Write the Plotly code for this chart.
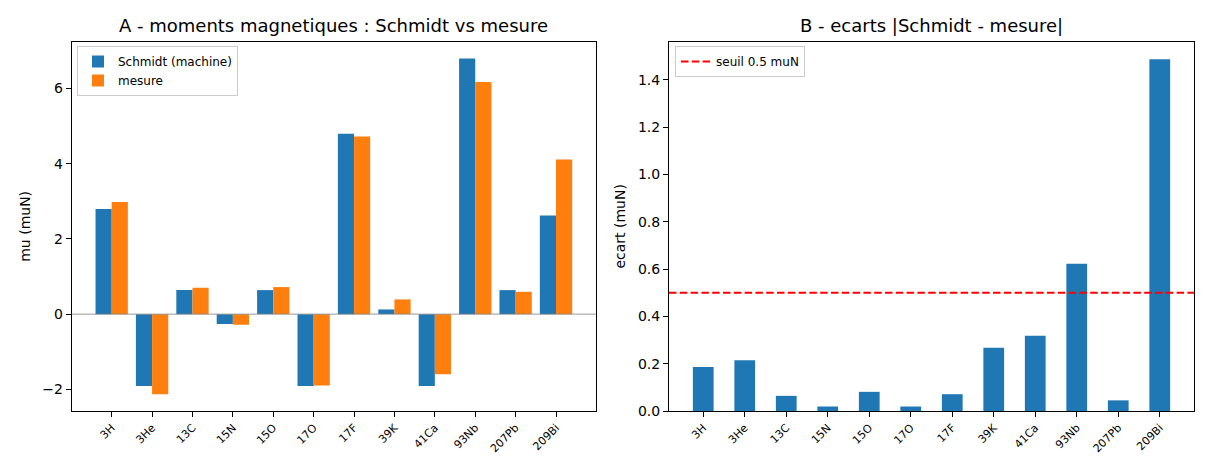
import plotly.graph_objects as go

# ---- data ----
nuclei = ["3H", "3He", "13C", "15N", "15O", "17O", "17F", "39K", "41Ca", "93Nb", "207Pb", "209Bi"]
schmidt = [2.793, -1.913, 0.638, -0.264, 0.638, -1.913, 4.793, 0.124, -1.913, 6.793, 0.638, 2.624]
mesure = [2.979, -2.128, 0.702, -0.283, 0.719, -1.894, 4.722, 0.391, -1.595, 6.170, 0.593, 4.111]
ecart = [0.186, 0.215, 0.064, 0.019, 0.081, 0.019, 0.071, 0.267, 0.318, 0.623, 0.045, 1.487]
seuil = 0.5

BLUE = "#1f77b4"
ORANGE = "#ff7f0e"
FONT = "DejaVu Sans"
W, H = 1210, 473

xs = list(range(len(nuclei)))

fig = go.Figure()
fig.add_trace(go.Bar(x=xs, y=schmidt, name="Schmidt (machine)", marker_color=BLUE,
                     marker_line_width=0, width=0.4, offset=-0.4, xaxis="x", yaxis="y",
                     legend="legend"))
fig.add_trace(go.Bar(x=xs, y=mesure, name="mesure", marker_color=ORANGE,
                     marker_line_width=0, width=0.4, offset=0.0, xaxis="x", yaxis="y",
                     legend="legend"))
fig.add_trace(go.Bar(x=xs, y=ecart, name="ecart", marker_color=BLUE, marker_line_width=0,
                     width=0.5, xaxis="x2", yaxis="y2", showlegend=False))

# zero line (left) and threshold (right)
fig.add_shape(type="line", xref="x domain", yref="y", x0=0, x1=1, y0=0, y1=0,
              line=dict(color="gray", width=0.8), layer="above")
fig.add_shape(type="line", xref="x2 domain", yref="y2", x0=0, x1=1, y0=seuil, y1=seuil,
              line=dict(color="#ff0000", width=2, dash="7.5px,3.3px"), layer="above",
              showlegend=True, name="seuil 0.5 muN", legend="legend2")

axis_common = dict(showline=True, linecolor="black", linewidth=1.1, mirror=True,
                   ticks="outside", ticklen=5, tickwidth=1.1, tickcolor="black",
                   showgrid=False, zeroline=False, automargin=False)

xl0, xl1 = 71.7 / W, 596 / W
xr0, xr1 = 669 / W, 1194 / W
yb, yt = 1 - 411 / H, 1 - 41.7 / H

fig.update_layout(
    width=W, height=H, autosize=False, margin=dict(l=0, r=0, t=0, b=0),
    paper_bgcolor="white", plot_bgcolor="white",
    font=dict(family=FONT, size=14, color="black"),
    barmode="overlay",
    xaxis=dict(domain=[xl0, xl1], range=[-0.99, 11.99], tickvals=xs, ticktext=nuclei,
               tickangle=-45, tickfont=dict(size=11), anchor="y", **axis_common),
    yaxis=dict(domain=[yb, yt], range=[-2.574, 7.239], dtick=2, tick0=0,
               title=dict(text="mu (muN)", font=dict(size=14), standoff=8),
               anchor="x", **axis_common),
    xaxis2=dict(domain=[xr0, xr1], range=[-0.825, 11.825], tickvals=xs, ticktext=nuclei,
                tickangle=-45, tickfont=dict(size=11), anchor="y2", **axis_common),
    yaxis2=dict(domain=[yb, yt], range=[0, 1.5614], dtick=0.2, tick0=0, tickformat=".1f",
                title=dict(text="ecart (muN)", font=dict(size=14), standoff=8),
                anchor="x2", **axis_common),
    legend=dict(x=77 / W, y=1 - 46 / H, xanchor="left", yanchor="top",
                bgcolor="rgba(255,255,255,0.8)", bordercolor="#cccccc", borderwidth=1,
                font=dict(size=12), tracegroupgap=0, itemwidth=30),
    legend2=dict(x=675 / W, y=1 - 46 / H, xanchor="left", yanchor="top",
                 bgcolor="rgba(255,255,255,0.8)", bordercolor="#cccccc", borderwidth=1,
                 font=dict(size=12), itemwidth=30),
    annotations=[
        dict(text="A - moments magnetiques : Schmidt vs mesure", xref="paper", yref="paper",
             x=(xl0 + xl1) / 2, y=1 - 26 / H, xanchor="center", yanchor="middle",
             showarrow=False, font=dict(size=18)),
        dict(text="B - ecarts |Schmidt - mesure|", xref="paper", yref="paper",
             x=(xr0 + xr1) / 2, y=1 - 26 / H, xanchor="center", yanchor="middle",
             showarrow=False, font=dict(size=18)),
    ],
)

fig.write_html("out.html",
               config={"displayModeBar": False, "responsive": False},
               post_script="document.body.style.margin='0';document.body.style.overflow='hidden';")
